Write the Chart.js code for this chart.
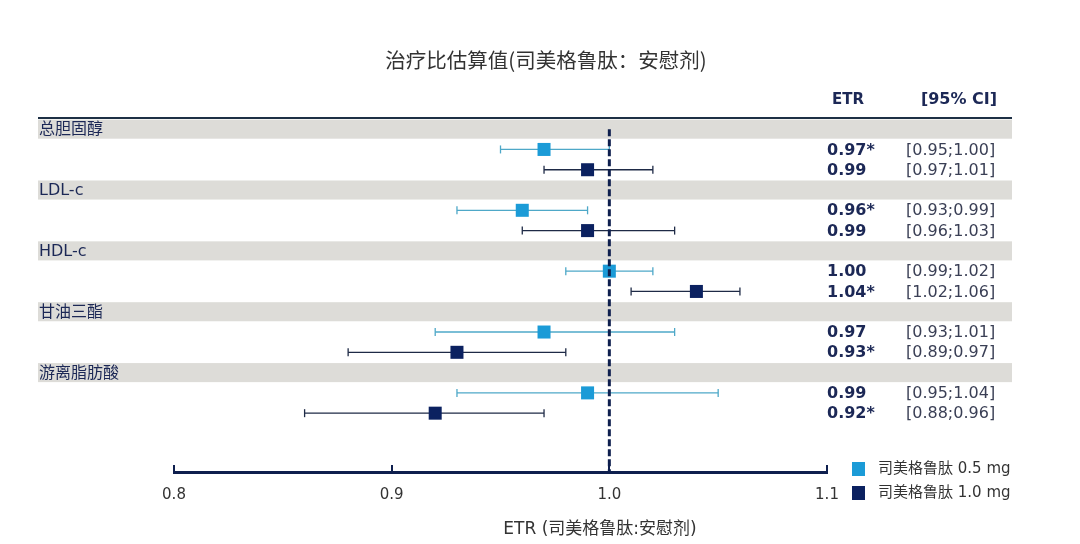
<!DOCTYPE html>
<html>
<head>
<meta charset="utf-8">
<title>治疗比估算值</title>
<script src="https://cdn.jsdelivr.net/npm/chart.js@4.4.1/dist/chart.umd.min.js"></script>
<style>
  html, body { margin: 0; padding: 0; background: #fff; }
</style>
</head>
<body>
<canvas id="forest" width="1080" height="544"></canvas>
<script>
// categories
const groups = ['总胆固醇', 'LDL-c', 'HDL-c', '甘油三酯', '游离脂肪酸'];
const doseNames = ['司美格鲁肽 0.5 mg', '司美格鲁肽 1.0 mg'];

// 0.5 mg: estimate + plotted CI ends
const est05 = [0.97, 0.96, 1.00, 0.97, 0.99];
const lo05 = [0.95, 0.93, 0.98, 0.92, 0.93];
const hi05 = [1.00, 0.99, 1.02, 1.03, 1.05];

// 1.0 mg
const est10 = [0.99, 0.99, 1.04, 0.93, 0.92];
const lo10 = [0.97, 0.96, 1.01, 0.88, 0.86];
const hi10 = [1.02, 1.03, 1.06, 0.98, 0.97];

// text columns on the right
const etrText05 = ['0.97*', '0.96*', '1.00', '0.97', '0.99'];
const ciText05 = ['[0.95;1.00]', '[0.93;0.99]', '[0.99;1.02]', '[0.93;1.01]', '[0.95;1.04]'];
const etrText10 = ['0.99', '0.99', '1.04*', '0.93*', '0.92*'];
const ciText10 = ['[0.97;1.01]', '[0.96;1.03]', '[1.02;1.06]', '[0.89;0.97]', '[0.88;0.96]'];

// axis
const xTicks = [0.8, 0.9, 1.0, 1.1];
const refValue = 1.0;
const axisTitle = 'ETR (司美格鲁肽:安慰剂)';

const lightBlue = '#1b9bd7';
const navy = '#0b2160';
const lightWhisker = '#4ea8c8';
const darkWhisker = '#1e2a46';
const textNavy = '#1c2856';
const sans = '"DejaVu Sans", "Noto Sans CJK SC", sans-serif';

// each group: one band row, then one row per dose
const rowOf = (g, dose) => g * 3 + 1 + dose;

const datasets = [];
groups.forEach((g, i) => {
  [[lo05, hi05, lightWhisker], [lo10, hi10, darkWhisker]].forEach(([lo, hi, col], d) => {
    datasets.push({
      label: 'ci',
      data: [{ x: lo[i], y: rowOf(i, d) }, { x: hi[i], y: rowOf(i, d) }],
      showLine: true,
      borderColor: col,
      borderWidth: 1.3,
      pointStyle: 'line',
      rotation: 90,
      pointRadius: 4,
      pointBorderColor: col,
      pointBorderWidth: 1.3,
      order: 2
    });
  });
});

datasets.push({
  label: doseNames[0],
  data: est05.map((v, i) => ({ x: v, y: rowOf(i, 0) })),
  pointStyle: 'rect',
  pointRadius: 9.2,
  backgroundColor: lightBlue,
  borderWidth: 0,
  order: 0
});
datasets.push({
  label: doseNames[1],
  data: est10.map((v, i) => ({ x: v, y: rowOf(i, 1) })),
  pointStyle: 'rect',
  pointRadius: 9.2,
  backgroundColor: navy,
  borderWidth: 0,
  order: 0
});
datasets.push({
  label: 'ref',
  data: [{ x: refValue, y: 0 }, { x: refValue, y: 16.9 }],
  showLine: true,
  borderColor: '#0e1f4e',
  borderWidth: 3,
  borderDash: [7, 3],
  pointRadius: 0,
  order: -1
});

const forestDecor = {
  id: 'forestDecor',
  beforeDatasetsDraw(chart) {
    const ctx = chart.ctx;
    const y = chart.scales.y;
    ctx.save();
    ctx.fillStyle = '#dddcd8';
    groups.forEach((g, i) => {
      const top = y.getPixelForValue(i * 3 - 0.47);
      const bot = y.getPixelForValue(i * 3 + 0.47);
      ctx.fillRect(38, top, 974, bot - top);
    });
    // header rule
    ctx.fillStyle = '#1d3045';
    ctx.fillRect(38, chart.chartArea.top - 1, 974, 2);
    ctx.restore();
  },
  afterDraw(chart) {
    const ctx = chart.ctx;
    const x = chart.scales.x;
    const y = chart.scales.y;
    const bottom = chart.chartArea.bottom;
    ctx.save();

    // upward tick marks on the axis
    ctx.strokeStyle = '#0e1f4e';
    ctx.lineWidth = 2;
    xTicks.forEach(v => {
      const px = Math.round(x.getPixelForValue(v));
      ctx.beginPath();
      ctx.moveTo(px, bottom - 7);
      ctx.lineTo(px, bottom);
      ctx.stroke();
    });

    // axis title, sits right of the axis centre as in the original
    ctx.textBaseline = 'middle';
    ctx.textAlign = 'center';
    ctx.fillStyle = '#333333';
    ctx.font = '17px ' + sans;
    ctx.fillText(axisTitle, 600, 530);

    // title
    ctx.font = '20.5px "Noto Sans CJK SC", sans-serif';
    ctx.fillText('治疗比估算值(司美格鲁肽：安慰剂)', 546, 60);

    // column headers
    ctx.fillStyle = textNavy;
    ctx.font = 'bold 15px ' + sans;
    ctx.fillText('ETR', 848, 100);
    ctx.font = 'bold 16px ' + sans;
    ctx.fillText('[95% CI]', 959, 100);

    // group labels
    ctx.textAlign = 'left';
    ctx.font = '16px ' + sans;
    groups.forEach((g, i) => {
      ctx.fillText(g, 39, y.getPixelForValue(i * 3) + 1);
    });

    // value columns
    groups.forEach((g, i) => {
      [[etrText05, ciText05], [etrText10, ciText10]].forEach(([etr, ci], d) => {
        const py = y.getPixelForValue(rowOf(i, d)) + 1;
        ctx.fillStyle = textNavy;
        ctx.font = 'bold 16px ' + sans;
        ctx.fillText(etr[i], 827, py);
        ctx.fillStyle = '#3a3f55';
        ctx.font = '16px ' + sans;
        ctx.fillText(ci[i], 906, py);
      });
    });

    // legend
    [lightBlue, navy].forEach((col, d) => {
      const cy = 469 + d * 24;
      ctx.fillStyle = col;
      ctx.fillRect(852, cy - 7, 13, 14);
      ctx.fillStyle = '#333333';
      ctx.font = '15px ' + sans;
      ctx.fillText(doseNames[d], 878, cy);
    });

    ctx.restore();
  }
};

new Chart(document.getElementById('forest'), {
  type: 'scatter',
  data: { datasets },
  options: {
    responsive: false,
    animation: false,
    devicePixelRatio: 1,
    layout: { padding: { left: 174, right: 253, top: 118, bottom: 0 } },
    plugins: {
      legend: { display: false },
      tooltip: { enabled: false },
      title: { display: false }
    },
    scales: {
      x: {
        type: 'linear',
        min: 0.8,
        max: 1.1,
        afterBuildTicks: s => { s.ticks = xTicks.map(v => ({ value: v })); },
        afterFit: s => { s.height = 72; },
        grid: { display: false, drawTicks: false },
        border: { display: true, color: '#0e1f4e', width: 3 },
        ticks: {
          padding: 14,
          color: '#333333',
          font: { family: sans, size: 15 },
          callback: v => v.toFixed(1)
        },
        title: { display: false }
      },
      y: {
        type: 'linear',
        display: false,
        reverse: true,
        min: -0.55,
        max: 16.9
      }
    }
  },
  plugins: [forestDecor]
});
</script>
</body>
</html>
